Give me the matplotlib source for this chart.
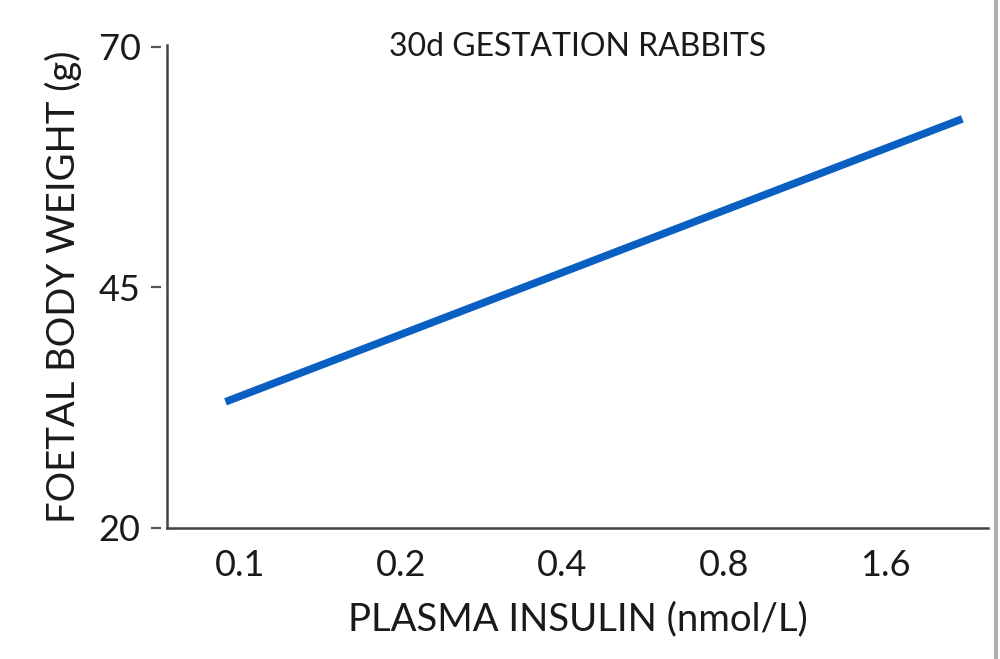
import matplotlib
matplotlib.use('Agg')
import matplotlib.pyplot as plt
from matplotlib.lines import Line2D
from matplotlib.transforms import ScaledTranslation

# Data
insulin = [0.094, 2.23]          # nmol/L, ends of the fitted line
body_weight = [33.1, 62.5]       # g
x_ticks = [0.1, 0.2, 0.4, 0.8, 1.6]
x_tick_labels = ['0.1', '0.2', '0.4', '0.8', '1.6']
y_ticks = [20, 45, 70]
y_tick_labels = ['20', '45', '70']

plt.rcParams['font.family'] = ['Lato', 'DejaVu Sans']

fig = plt.figure(figsize=(10, 6.59), dpi=100)
ax = fig.add_axes([0.167, 0.199, 0.821, 0.733])

# Regression line
ax.plot(insulin, body_weight, color='#0a5fc2', linewidth=5.5, solid_capstyle='butt')

# Axes scales
ax.set_xscale('log', base=2)
ax.set_xlim(0.0731, 2.49)
ax.set_ylim(20, 70.2)
ax.set_xticks(x_ticks)
ax.set_xticklabels(x_tick_labels)
ax.minorticks_off()
ax.set_yticks(y_ticks)
ax.set_yticklabels(y_tick_labels)

# Spines
for side in ['top', 'right']:
    ax.spines[side].set_visible(False)
for side in ['left', 'bottom']:
    ax.spines[side].set_color('#444444')
    ax.spines[side].set_linewidth(1.8)

ax.tick_params(axis='x', length=0, pad=15, labelsize=26, labelcolor='#1a1a1a')
ax.tick_params(axis='y', length=7, width=1.6, color='#555555', pad=12,
               labelsize=26, labelcolor='#1a1a1a')

# small gap between y tick marks and the spine
shift = ScaledTranslation(-4 / 72, 0, fig.dpi_scale_trans)
for tick in ax.yaxis.get_major_ticks():
    tick.tick1line.set_transform(tick.tick1line.get_transform() + shift)

# Labels and title
ax.set_xlabel('PLASMA INSULIN (nmol/L)', fontsize=27.5, color='#1a1a1a', labelpad=14)
ax.set_ylabel('FOETAL BODY WEIGHT (g)', fontsize=27.5, color='#1a1a1a', labelpad=12)
ax.text(0.5, 0.995, '30d GESTATION RABBITS', transform=ax.transAxes,
        ha='center', va='center', fontsize=23, color='#1a1a1a')

# gray border line on the right edge of the picture
fig.add_artist(Line2D([0.9955, 0.9955], [0, 1], transform=fig.transFigure,
                      color='#b0b0b0', linewidth=3))

plt.savefig('out.png', dpi=100)
